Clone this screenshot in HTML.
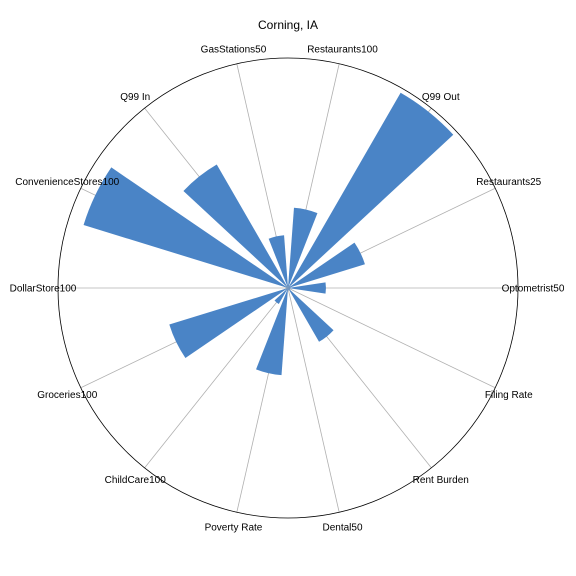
<!DOCTYPE html>
<html><head><meta charset="utf-8"><style>
body{margin:0;background:#fff}
svg{display:block;font-family:"Liberation Sans",sans-serif}
</style></head><body>
<svg id="chart" width="576" height="576">
<rect width="576" height="576" fill="#fff"/>
<text x="288" y="29" text-anchor="middle" font-size="12">Corning, IA</text>
<g id="grid"></g><g id="bars"></g>
<circle cx="288" cy="288" r="230" fill="none" stroke="#000" stroke-width="0.8"/>
<g id="labels"></g>
</svg>
<script>
const categories=["Optometrist50","Restaurants25","Q99 Out","Restaurants100","GasStations50","Q99 In","ConvenienceStores100","DollarStore100","Groceries100","ChildCare100","Poverty Rate","Dental50","Rent Burden","Filing Rate"];
const values=[0.165,0.35,0.98,0.35,0.23,0.62,0.93,0.0,0.54,0.08,0.38,0.01,0.27,0.01];
const cx=288,cy=288,R=230,maxV=1.0,bw=0.3;
const ns="http://www.w3.org/2000/svg";
const ang=i=>i*2*Math.PI/categories.length;
const rad=v=>v/maxV*R;
const pt=(a,r)=>[cx+r*Math.cos(a),cy-r*Math.sin(a)];
const grid=document.getElementById('grid'),bars=document.getElementById('bars'),labels=document.getElementById('labels');
categories.forEach((c,i)=>{
  const a=ang(i);
  const [x,y]=pt(a,R);
  const l=document.createElementNS(ns,'line');
  l.setAttribute('x1',cx);l.setAttribute('y1',cy);l.setAttribute('x2',x);l.setAttribute('y2',y);
  l.setAttribute('stroke','#b0b0b0');l.setAttribute('stroke-width','0.8');
  
  
  grid.appendChild(l);
  const r=rad(values[i]);
  const [x1,y1]=pt(a-bw/2,r),[x2,y2]=pt(a+bw/2,r);
  const p=document.createElementNS(ns,'path');
  p.setAttribute('d',`M${cx},${cy}L${x1},${y1}A${r},${r} 0 0 0 ${x2},${y2}Z`);
  p.setAttribute('fill','#4a84c6');
  
  
  bars.appendChild(p);
  const [tx,ty]=pt(a,245);
  const t=document.createElementNS(ns,'text');
  t.setAttribute('x',tx);t.setAttribute('y',ty+3.5);
  t.setAttribute('font-size','10');
  t.setAttribute('text-anchor','middle');
  t.textContent=c;
  
  
  labels.appendChild(t);
});
</script>
</body></html>
